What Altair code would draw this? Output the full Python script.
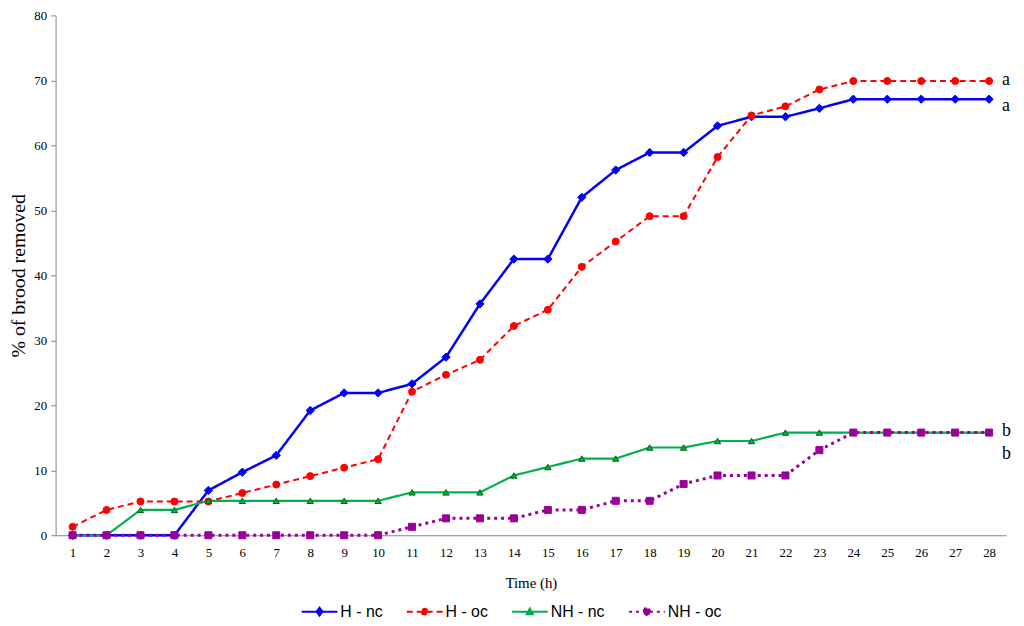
import altair as alt
import pandas as pd

hours = list(range(1, 29))
series_names = ["H - nc", "H - oc", "NH - nc", "NH - oc"]
h_nc = [0, 0, 0, 0, 6.9, 9.7, 12.3, 19.2, 21.9, 21.9, 23.3, 27.4, 35.6, 42.5, 42.5,
        52.0, 56.2, 58.9, 58.9, 63.0, 64.4, 64.4, 65.7, 67.1, 67.1, 67.1, 67.1, 67.1]
h_oc = [1.3, 3.9, 5.2, 5.2, 5.2, 6.5, 7.8, 9.1, 10.4, 11.7, 22.1, 24.7, 27.0, 32.2, 34.7,
        41.3, 45.2, 49.1, 49.1, 58.2, 64.6, 66.0, 68.6, 69.9, 69.9, 69.9, 69.9, 69.9]
nh_nc = [0, 0, 3.9, 3.9, 5.3, 5.3, 5.3, 5.3, 5.3, 5.3, 6.6, 6.6, 6.6, 9.2, 10.5,
         11.8, 11.8, 13.5, 13.5, 14.5, 14.5, 15.8, 15.8, 15.8, 15.8, 15.8, 15.8, 15.8]
nh_oc = [0, 0, 0, 0, 0, 0, 0, 0, 0, 0, 1.3, 2.6, 2.6, 2.6, 3.9,
         3.9, 5.3, 5.3, 7.9, 9.2, 9.2, 9.2, 13.1, 15.8, 15.8, 15.8, 15.8, 15.8]

sig_letters = ["a", "a", "b", "b"]
sig_y = [70.0, 66.0, 16.0, 12.5]
sig_x = [28, 28, 28, 28]

colors = ["#0000ff", "#ff0000", "#00b050", "#990099"]
marker_strokes = ["#0000ff", "#ff0000", "#006400", "#990099"]
dashes = [[1, 0], [6, 4], [1, 0], [3, 4]]
widths = [2.5, 2.0, 2.2, 3.0]
shapes = ["diamond", "circle", "triangle-up", "square"]
marker_sizes = [70, 50, 40, 50]
legend_paths = [
    "M-1,0H1M0,-0.22L0.17,0L0,0.22L-0.17,0Z",
    "M-1,0H1M-0.16,0A0.16,0.16 0 1,0 0.16,0A0.16,0.16 0 1,0 -0.16,0Z",
    "M-1,0H1M0,-0.17L0.17,0.14L-0.17,0.14Z",
    "M-1,0H1M-0.17,-0.17H0.17V0.17H-0.17Z",
]

rows = []
for name, vals in zip(series_names, [h_nc, h_oc, nh_nc, nh_oc]):
    for h, v in zip(hours, vals):
        rows.append({"hour": h, "value": v, "series": name})
df = pd.DataFrame(rows)
ann = pd.DataFrame({"hour": sig_x, "value": sig_y, "label": sig_letters})

SERIF = "Liberation Serif"
SANS = "Liberation Sans"

x_enc = alt.X("hour:Q", scale=alt.Scale(domain=[0.5, 28.5], nice=False, zero=False),
              axis=alt.Axis(values=hours, tickCount=28, ticks=False, tickSize=0, grid=False,
                            labelOverlap=False, labelFlush=False,
                            title="Time (h)", titleFont=SERIF, titleFontSize=15,
                            titleFontWeight="normal", titlePadding=17,
                            labelFont=SERIF, labelFontSize=13, labelPadding=11,
                            labelColor="#000", titleColor="#000",
                            domainColor="#868686", format="d"))
y_enc = alt.Y("value:Q", scale=alt.Scale(domain=[0, 80], nice=False),
              axis=alt.Axis(values=list(range(0, 81, 10)), grid=False,
                            title="% of brood removed", titleFont=SERIF, titleFontSize=20,
                            titleFontWeight="normal", titlePadding=5,
                            labelFont=SERIF, labelFontSize=13, labelPadding=4,
                            labelColor="#000", titleColor="#000",
                            domainColor="#868686", tickColor="#868686", tickSize=5))

sdom = series_names

layers = []
for name, col, dsh, wd in zip(series_names, colors, dashes, widths):
    layers.append(
        alt.Chart(df).transform_filter(alt.datum.series == name)
        .mark_line(strokeCap="butt", color=col, strokeDash=dsh, strokeWidth=wd)
    )
for name, shp, sz, col, stc in zip(series_names, shapes, marker_sizes, colors, marker_strokes):
    layers.append(
        alt.Chart(df).transform_filter(alt.datum.series == name)
        .mark_point(filled=True, shape=shp, size=sz, opacity=1, fill=col, stroke=stc, strokeWidth=1)
    )

leg = alt.Legend(title=None, orient="none", direction="horizontal",
                 legendX=247, legendY=582, symbolSize=1296, symbolStrokeWidth=2,
                 labelFont=SANS, labelFontSize=16, labelColor="#000",
                 labelOffset=2, columnPadding=20, symbolOpacity=1)

legend_layer = alt.Chart(df).transform_filter("false").mark_point(filled=False, opacity=1).encode(
    stroke=alt.Stroke("series:N", scale=alt.Scale(domain=sdom, range=colors), legend=leg),
    fill=alt.Fill("series:N", scale=alt.Scale(domain=sdom, range=colors), legend=leg),
    shape=alt.Shape("series:N", scale=alt.Scale(domain=sdom, range=legend_paths), legend=leg),
    strokeDash=alt.StrokeDash("series:N", scale=alt.Scale(domain=sdom, range=dashes), legend=leg),
)
layers.append(legend_layer)

text = alt.Chart(ann).mark_text(font=SERIF, fontSize=18, align="left", baseline="middle",
                                dx=13, color="#000").encode(text="label:N")
layers.append(text)

chart = alt.layer(*layers).encode(x=x_enc, y=y_enc).properties(
    width=958, height=524,
    autosize=alt.AutoSizeParams(type="none"),
    padding={"left": 48, "top": 5, "right": 10, "bottom": 86},
    background="white",
).configure_view(stroke=None)

chart.save("out.html", embed_options={"renderer": "svg", "actions": False})
